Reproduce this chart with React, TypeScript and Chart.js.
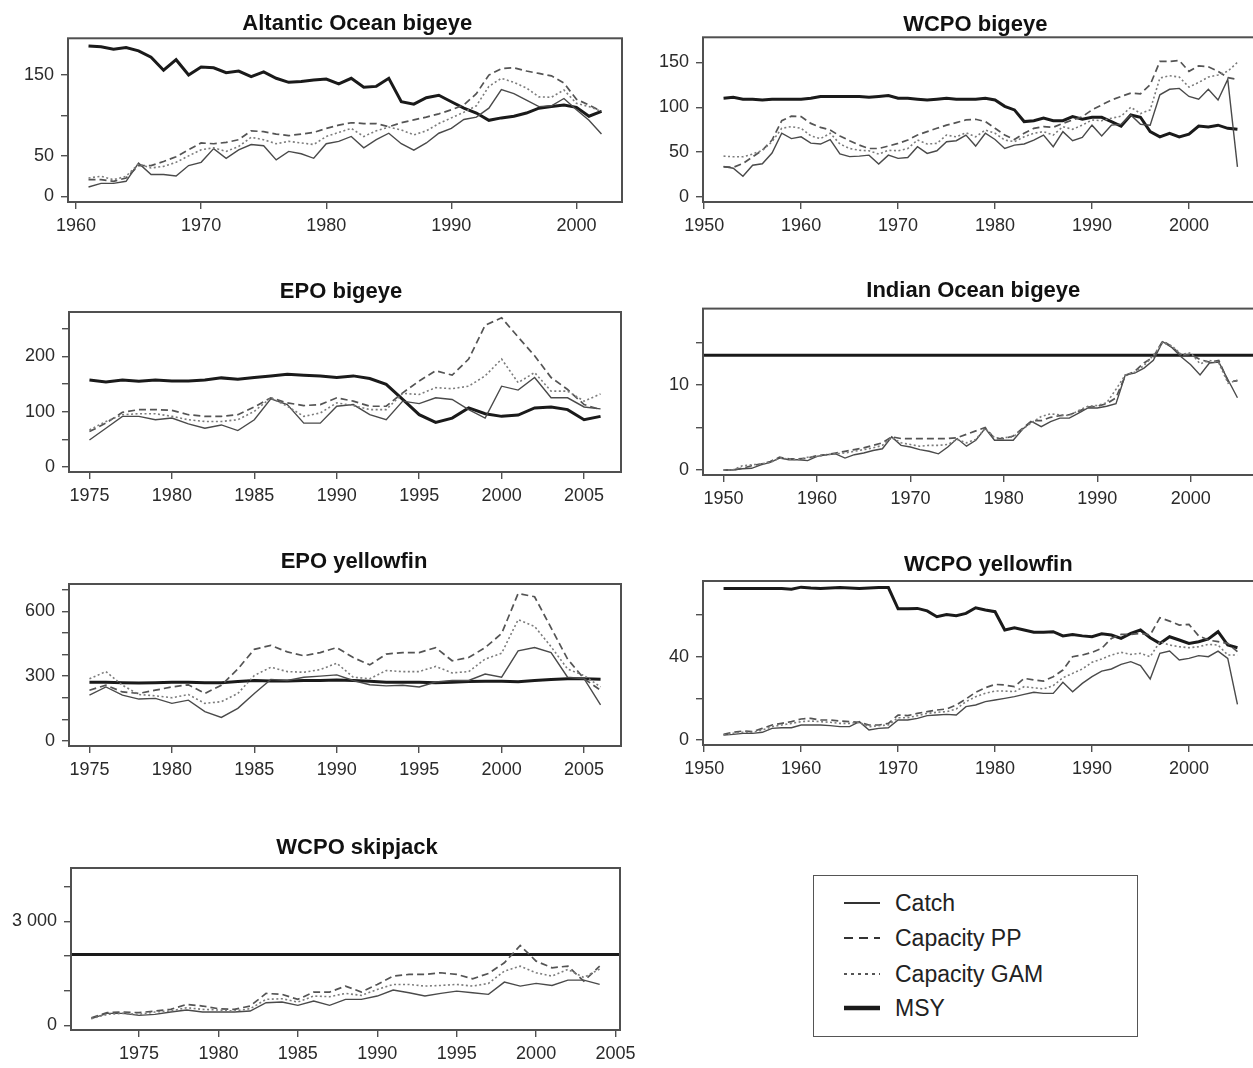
import React, { useEffect, useRef } from "react";
import { Chart, registerables } from "chart.js";

Chart.register(...registerables);

const FONT = "'Liberation Sans', Arial, Helvetica, sans-serif";

// ---------- Atlantic Ocean bigeye (1961-2002) ----------
const atlStart = 1961;
const atlCatch = [11.5, 16, 16, 18.5, 41, 27, 27, 25, 38, 42, 59, 47, 57.5, 64, 62.5, 45, 55.5, 52.6, 47, 65, 68, 74, 60, 70, 78, 65, 57, 66, 78, 84, 95, 98, 109, 132, 127, 119, 111, 112, 121, 107, 94, 77];
const atlPP = [20.5, 20.5, 18.5, 22.6, 38, 38, 43, 49, 57.5, 66, 65, 66.6, 70, 81, 80, 77, 75, 77, 79, 84, 88, 91, 90, 90, 86, 91, 94.5, 98, 102, 107, 113, 127, 150, 158, 159, 155, 152, 149, 140, 120, 113, 105];
const atlGAM = [22.6, 24.7, 20.5, 24.7, 40, 35, 37, 42, 50, 57.5, 60, 55.5, 61.6, 73, 70, 65, 68, 66, 64, 74, 79, 84, 74, 81, 85.5, 82, 76, 81, 90, 97, 104, 112, 136, 146, 141, 134, 123, 122.5, 131.5, 115, 111, 105];
const atlMSY = [186, 185, 182, 184, 180, 172, 156, 169, 150, 160, 159, 153, 155, 148, 154, 146, 141, 142, 144, 145, 139, 146, 135, 136, 146, 117, 114, 122, 125, 117, 109, 103, 94, 97, 99, 103, 109, 111, 113, 110, 99, 105];

// ---------- WCPO bigeye (1952-2005) ----------
const wbeStart = 1952;
const wbeCatch = [34, 32, 23, 35.4, 37, 49, 71, 65, 67, 60, 59, 64, 48, 45, 45.5, 46.6, 36.6, 46.6, 43, 44, 56, 48.5, 51.5, 61.6, 62.7, 69, 56.7, 71, 64, 54, 57.8, 59, 63.4, 69, 56, 72.8, 62.7, 66.4, 80, 68, 80, 81, 91.4, 81, 80, 113.8, 120, 121, 112, 109, 120, 108, 131, 33.6];
const wbePP = [33.6, 33, 37.3, 44.8, 52, 63.4, 85, 90, 89.5, 82, 77.6, 74.6, 68, 62.7, 57.8, 54, 54, 56.7, 59.7, 63.4, 69, 72.8, 76.5, 80, 82.8, 85.8, 86.6, 84, 76.5, 69, 64, 71, 76.5, 78.4, 77.6, 82, 85.8, 89.5, 97, 102.6, 108, 112, 115.7, 115, 125, 151, 151, 152, 140, 146, 145, 140, 133, 131];
const wbeGAM = [45.5, 44.8, 44.8, 47.8, 52, 61.6, 76.5, 78.4, 76.5, 68, 65, 71, 59, 54, 52, 51.5, 47.8, 52, 51.5, 54, 63.4, 59, 59.7, 69, 67, 71.6, 67, 74.6, 71, 63.4, 61.6, 67, 71, 72.8, 69, 78.4, 75.4, 80, 85.8, 85, 87.7, 90, 100, 93, 97, 132.5, 135, 133.6, 122.4, 127.6, 133.6, 136, 140, 150];
const wbeMSY = [110, 111, 109, 109, 108, 109, 109, 109, 109, 110, 112, 112, 112, 112, 112, 111, 112, 113, 110, 110, 109, 108, 109, 110, 109, 109, 109, 110, 108, 101, 97, 84, 85, 88, 85, 85, 89.5, 86.6, 88.8, 88.8, 84, 79, 91.4, 88.8, 72.8, 67, 71, 67, 70, 79, 78, 80, 76.5, 75.4];

// ---------- EPO bigeye (1975-2006) ----------
const ebeStart = 1975;
const ebeCatch = [48.8, 70, 91.5, 91.5, 85.4, 88.4, 78, 70, 76, 65.8, 85.4, 123, 112.8, 79.3, 79.3, 109.8, 112.8, 94.5, 85.4, 119, 114.6, 125, 122, 103.7, 88.4, 146, 139, 161.6, 125, 125, 108.5, 105];
const ebePP = [64, 79.3, 98.8, 103.7, 103.7, 102.4, 94.5, 91.5, 91.5, 94.5, 108.5, 125, 115.9, 111, 112.8, 125, 119, 109.8, 109.8, 134, 155.5, 173.8, 165.9, 195, 256, 269.5, 234.8, 201, 161.6, 140, 112.8, 103.7];
const ebeGAM = [67, 82.3, 94.5, 96.3, 96.3, 91.5, 85.4, 82.3, 82.3, 85.4, 100.6, 125, 109.8, 91.5, 97.6, 115.9, 111, 103.7, 103.7, 133, 131, 143.3, 141.5, 146, 164.6, 195, 152.4, 170.7, 137, 137, 119, 132];
const ebeMSY = [157, 153.7, 157, 155, 157, 155.5, 155.5, 157, 161, 158.5, 161.6, 164.6, 167.7, 165.9, 164.6, 161.6, 164.6, 159.8, 149.4, 122, 94.5, 80.5, 88.4, 106.7, 96.3, 91.5, 93.9, 106.7, 108.5, 103.7, 85.4, 91.5];

// ---------- Indian Ocean bigeye (1950-2005) ----------
const iobStart = 1950;
const iobCatch = [0, 0, 0.15, 0.2, 0.6, 0.9, 1.4, 1.2, 1.2, 1.1, 1.6, 1.8, 1.9, 1.4, 1.8, 2.0, 2.3, 2.5, 3.9, 2.9, 2.7, 2.4, 2.2, 1.9, 2.7, 3.7, 2.8, 3.5, 4.9, 3.5, 3.5, 3.5, 4.8, 5.7, 5.1, 5.7, 6.1, 6.1, 6.7, 7.3, 7.3, 7.5, 7.8, 11.2, 11.4, 12.0, 12.9, 15.1, 14.4, 13.3, 12.4, 11.2, 12.6, 12.7, 10.6, 8.5];
const iobPP = [0, 0, 0.2, 0.5, 0.7, 1.0, 1.5, 1.3, 1.3, 1.4, 1.7, 1.8, 2.0, 2.2, 2.4, 2.6, 2.9, 3.2, 3.9, 3.7, 3.7, 3.7, 3.7, 3.7, 3.7, 3.8, 4.2, 4.6, 5.0, 3.7, 3.7, 4.0, 4.9, 5.8, 5.8, 6.2, 6.4, 6.5, 6.9, 7.4, 7.5, 7.8, 8.5, 11.1, 11.6, 12.6, 13.3, 15.2, 14.5, 13.5, 13.6, 13.0, 12.7, 12.9, 10.4, 10.5];
const iobGAM = [0, 0, 0.5, 0.6, 0.7, 0.9, 1.4, 1.3, 1.2, 1.5, 1.6, 1.8, 1.9, 2.0, 2.2, 2.4, 2.6, 2.9, 3.8, 3.2, 3.0, 2.8, 2.9, 2.9, 3.0, 3.6, 3.2, 3.6, 4.9, 3.8, 3.8, 3.9, 4.8, 5.6, 6.3, 6.6, 6.5, 6.4, 7.0, 7.5, 7.6, 7.9, 9.5, 11.2, 11.5, 12.3, 13.5, 15.0, 14.6, 13.6, 13.8, 12.5, 12.9, 12.6, 10.2, 10.6];
const iobMSY = 13.5;

// ---------- EPO yellowfin (1975-2006) ----------
const eyfStart = 1975;
const eyfCatch = [212, 250, 212, 194, 197, 174, 189, 136, 109, 151, 220, 285, 280, 295, 300, 306, 280, 260, 255, 258, 250, 273, 280, 280, 310, 295, 417, 432, 409, 295, 288, 167];
const eyfPP = [235, 258, 227, 220, 235, 250, 260, 220, 258, 333, 424, 442, 412, 394, 409, 432, 386, 352, 402, 409, 409, 432, 371, 386, 432, 497, 682, 667, 523, 379, 288, 235];
const eyfGAM = [288, 321, 258, 215, 209, 200, 215, 174, 182, 220, 303, 341, 321, 318, 330, 360, 295, 288, 326, 321, 321, 345, 315, 321, 379, 406, 561, 530, 436, 333, 303, 250];
const eyfMSY = [272, 272, 270, 268, 270, 272, 272, 270, 270, 275, 280, 278, 278, 280, 280, 282, 280, 276, 272, 272, 272, 270, 272, 275, 276, 276, 274, 280, 285, 288, 288, 286];

// ---------- WCPO yellowfin (1952-2005) ----------
const wyfStart = 1952;
const wyfCatch = [2.4, 2.7, 3.2, 3.2, 3.7, 5.6, 5.9, 5.9, 7.2, 7.2, 7.2, 6.9, 6.4, 6.4, 8.8, 4.8, 5.6, 5.9, 9.6, 9.6, 10.4, 11.7, 12, 12.3, 12, 16, 16.8, 18.4, 19.2, 20, 20.8, 21.9, 22.9, 22.4, 22.4, 27.7, 23.2, 27.2, 30.4, 33.1, 34.1, 36.3, 37.6, 35.7, 29.3, 41.6, 42.7, 38.4, 39.2, 40.5, 40, 42.7, 39.2, 17.1];
const wyfPP = [2.7, 3.7, 4.3, 4, 5.6, 7.2, 8, 8.8, 10.1, 10.4, 9.6, 9.6, 9.1, 8.8, 8.5, 7.2, 7.2, 8, 12, 11.7, 12.8, 13.6, 14.4, 14.9, 16.8, 19.7, 22.9, 25.1, 26.7, 26.4, 25.6, 29.6, 28.8, 28.3, 30.4, 33.6, 40, 40.8, 42.1, 44, 48.8, 50.7, 50.7, 51.2, 50.4, 58.7, 57.1, 55.2, 55.5, 50, 48, 47.2, 46.4, 42.4];
const wyfGAM = [2.4, 3.2, 3.7, 3.7, 4.8, 6.4, 7.2, 8, 8.8, 9.1, 8.8, 8.5, 8, 8, 8.5, 6.4, 6.9, 7.2, 10.7, 10.7, 11.7, 12.8, 13.3, 13.6, 14.9, 18.4, 20.8, 22.4, 23.5, 23.5, 23.2, 25.6, 25.1, 24.5, 26.1, 29.9, 32, 34.1, 37.3, 38.9, 40.8, 42.1, 41.1, 41.6, 40, 47.2, 45.6, 44.8, 44.3, 44.8, 45.9, 45.6, 40.8, 40.8];
const wyfMSY = [72.8, 72.8, 72.8, 72.8, 72.8, 72.8, 72.8, 72.4, 73.4, 73.0, 72.8, 73.0, 73.2, 73.0, 72.8, 73.0, 73.2, 73.2, 63, 63, 63.2, 62, 59.2, 60.3, 59.7, 60.8, 63.5, 62.4, 61.6, 52.8, 53.9, 52.8, 51.7, 51.7, 52, 50, 50.7, 50, 49.6, 51, 50.4, 48.8, 51.2, 52.8, 49.1, 46.4, 49.6, 48, 46.4, 47.2, 48.5, 52, 45.6, 44.3];

// ---------- WCPO skipjack (1972-2004) ----------
const skjStart = 1972;
const skjCatch = [192, 345, 345, 288, 316, 384, 441, 384, 384, 384, 412, 652, 671, 575, 700, 575, 748, 748, 844, 1016, 940, 844, 920, 987, 940, 892, 1246, 1131, 1208, 1150, 1304, 1304, 1179];
const skjPP = [220, 364, 384, 364, 412, 460, 604, 556, 479, 460, 556, 920, 892, 748, 959, 959, 1131, 959, 1179, 1419, 1467, 1467, 1515, 1467, 1342, 1496, 1802, 2301, 1850, 1659, 1707, 1275, 1707];
const skjGAM = [192, 316, 345, 316, 384, 412, 508, 460, 441, 412, 479, 748, 767, 671, 844, 825, 920, 863, 1035, 1179, 1179, 1131, 1150, 1179, 1131, 1208, 1563, 1707, 1515, 1419, 1611, 1380, 1620];
const skjMSY = 2040;

// ---------- tick values / labels ----------
const atlXTicks = [1960, 1970, 1980, 1990, 2000];
const atlYTicks = [0, 50, 100, 150];
const atlYLabels = ["0", "50", "", "150"];
const wcpoXTicks = [1950, 1960, 1970, 1980, 1990, 2000];
const wbeYTicks = [0, 50, 100, 150];
const wbeYLabels = ["0", "50", "100", "150"];
const epoXTicks = [1975, 1980, 1985, 1990, 1995, 2000, 2005];
const ebeYTicks = [0, 50, 100, 150, 200, 250];
const ebeYLabels = ["0", "", "100", "", "200", ""];
const iobYTicks = [0, 5, 10, 15];
const iobYLabels = ["0", "", "10", ""];
const eyfYTicks = [0, 100, 200, 300, 400, 500, 600, 700];
const eyfYLabels = ["0", "", "", "300", "", "", "600", ""];
const wyfYTicks = [0, 20, 40, 60];
const wyfYLabels = ["0", "", "40", ""];
const skjXTicks = [1975, 1980, 1985, 1990, 1995, 2000, 2005];
const skjYTicks = [0, 1000, 2000, 3000, 4000];
const skjYLabels = ["0", "", "", "3 000", ""];

type Box = { l: number; t: number; r: number; b: number };
type Spec = {
  title: string;
  titleX: number;
  titleY: number;
  box: Box;
  start: number;
  catchV: number[];
  pp: number[];
  gam: number[];
  msy: number[] | number;
  xLim: [number, number];
  xTicks: number[];
  yLim: [number, number];
  yTicks: number[];
  yLabels: string[];
};

const panels: Spec[] = [
  {
    title: "Altantic Ocean bigeye", titleX: 357, titleY: 24,
    box: { l: 67.7, t: 38.3, r: 621.7, b: 201.7 },
    start: atlStart, catchV: atlCatch, pp: atlPP, gam: atlGAM, msy: atlMSY,
    xLim: [1959.36, 2003.64], xTicks: atlXTicks,
    yLim: [-7.1, 195.5], yTicks: atlYTicks, yLabels: atlYLabels,
  },
  {
    title: "WCPO bigeye", titleX: 975, titleY: 25,
    box: { l: 702.7, t: 37.3, r: 1257.2, b: 201.7 },
    start: wbeStart, catchV: wbeCatch, pp: wbePP, gam: wbeGAM, msy: wbeMSY,
    xLim: [1949.88, 2007.12], xTicks: wcpoXTicks,
    yLim: [-5.6, 177.9], yTicks: wbeYTicks, yLabels: wbeYLabels,
  },
  {
    title: "EPO bigeye", titleX: 341, titleY: 291.7,
    box: { l: 69, t: 311.7, r: 621, b: 471.7 },
    start: ebeStart, catchV: ebeCatch, pp: ebePP, gam: ebeGAM, msy: ebeMSY,
    xLim: [1973.76, 2007.24], xTicks: epoXTicks,
    yLim: [-9, 280], yTicks: ebeYTicks, yLabels: ebeYLabels,
  },
  {
    title: "Indian Ocean bigeye", titleX: 973, titleY: 290.7,
    box: { l: 702.7, t: 308.3, r: 1257.2, b: 475 },
    start: iobStart, catchV: iobCatch, pp: iobPP, gam: iobGAM, msy: iobMSY,
    xLim: [1947.8, 2007.2], xTicks: wcpoXTicks,
    yLim: [-0.59, 19.0], yTicks: iobYTicks, yLabels: iobYLabels,
  },
  {
    title: "EPO yellowfin", titleX: 354, titleY: 562.3,
    box: { l: 69, t: 584.3, r: 621, b: 746.7 },
    start: eyfStart, catchV: eyfCatch, pp: eyfPP, gam: eyfGAM, msy: eyfMSY,
    xLim: [1973.76, 2007.24], xTicks: epoXTicks,
    yLim: [-23, 726], yTicks: eyfYTicks, yLabels: eyfYLabels,
  },
  {
    title: "WCPO yellowfin", titleX: 988, titleY: 565,
    box: { l: 702.7, t: 581, r: 1257.2, b: 745 },
    start: wyfStart, catchV: wyfCatch, pp: wyfPP, gam: wyfGAM, msy: wyfMSY,
    xLim: [1949.88, 2007.12], xTicks: wcpoXTicks,
    yLim: [-2.4, 76.35], yTicks: wyfYTicks, yLabels: wyfYLabels,
  },
  {
    title: "WCPO skipjack", titleX: 357, titleY: 848.3,
    box: { l: 71, t: 868.3, r: 619.5, b: 1030.7 },
    start: skjStart, catchV: skjCatch, pp: skjPP, gam: skjGAM, msy: skjMSY,
    xLim: [1970.72, 2005.28], xTicks: skjXTicks,
    yLim: [-135, 4536], yTicks: skjYTicks, yLabels: skjYLabels,
  },
];

const YW = 64; // y-axis band width
const XH = 42; // x-axis band height
const RP = 30; // right padding
const TITLE_OFF = 15;

function Panel({ spec }: { spec: Spec }) {
  const ref = useRef<HTMLCanvasElement | null>(null);
  const left = spec.box.l - YW;
  const top = spec.titleY - TITLE_OFF;
  const width = Math.round(spec.box.r - spec.box.l + YW + RP);
  const height = Math.round(spec.box.b - top + XH);

  useEffect(() => {
    if (!ref.current) return;
    const years = spec.catchV.map((_, i) => spec.start + i);
    const pts = (arr: number[]) => arr.map((v, i) => ({ x: years[i], y: v }));
    const msyData =
      typeof spec.msy === "number"
        ? [
            { x: spec.xLim[0], y: spec.msy },
            { x: spec.xLim[1], y: spec.msy },
          ]
        : pts(spec.msy);

    const framePlugin = {
      id: "frameAndTitle",
      afterDraw(chart: any) {
        const { ctx, chartArea } = chart;
        ctx.save();
        ctx.strokeStyle = "#505050";
        ctx.lineWidth = 2;
        ctx.strokeRect(chartArea.left, chartArea.top, chartArea.right - chartArea.left, chartArea.bottom - chartArea.top);
        ctx.fillStyle = "#111";
        ctx.font = `bold 22px ${FONT}`;
        ctx.textAlign = "center";
        ctx.textBaseline = "middle";
        ctx.fillText(spec.title, spec.titleX - left, TITLE_OFF);
        ctx.restore();
      },
    };

    const common = { pointRadius: 0, pointHoverRadius: 0, tension: 0, fill: false };
    const chart = new Chart(ref.current, {
      type: "line",
      data: {
        datasets: [
          { label: "Capacity GAM", data: pts(spec.gam), borderColor: "#7c7c7c", borderWidth: 1.6, borderDash: [2, 2.5], ...common },
          { label: "Capacity PP", data: pts(spec.pp), borderColor: "#545454", borderWidth: 1.7, borderDash: [7, 4], ...common },
          { label: "Catch", data: pts(spec.catchV), borderColor: "#4a4a4a", borderWidth: 1.4, ...common },
          { label: "MSY", data: msyData, borderColor: "#1a1a1a", borderWidth: 3, ...common },
        ],
      },
      options: {
        responsive: false,
        animation: false,
        devicePixelRatio: 1,
        events: [],
        layout: { padding: { left: 0, right: RP, top: spec.box.t - top, bottom: 0 } },
        plugins: {
          legend: { display: false },
          tooltip: { enabled: false },
          title: { display: false },
        },
        scales: {
          x: {
            type: "linear",
            min: spec.xLim[0],
            max: spec.xLim[1],
            afterBuildTicks: (s: any) => {
              s.ticks = spec.xTicks.map((v) => ({ value: v }));
            },
            afterFit: (s: any) => {
              s.height = XH;
            },
            border: { display: false },
            grid: { display: true, drawOnChartArea: false, drawTicks: true, tickLength: 7, color: "#505050", lineWidth: 1.4 },
            ticks: {
              autoSkip: false,
              maxRotation: 0,
              padding: 6,
              color: "#2a2a2a",
              font: { family: FONT, size: 18 },
              callback: (v: any) => String(v),
            },
          },
          y: {
            type: "linear",
            min: spec.yLim[0],
            max: spec.yLim[1],
            afterBuildTicks: (s: any) => {
              s.ticks = spec.yTicks.map((v) => ({ value: v }));
            },
            afterFit: (s: any) => {
              s.width = YW;
            },
            border: { display: false },
            grid: { display: true, drawOnChartArea: false, drawTicks: true, tickLength: 7, color: "#505050", lineWidth: 1.4 },
            ticks: {
              autoSkip: false,
              padding: 7,
              color: "#2a2a2a",
              font: { family: FONT, size: 18 },
              callback: (_v: any, i: number) => spec.yLabels[i] ?? "",
            },
          },
        },
      },
      plugins: [framePlugin],
    } as any);
    return () => chart.destroy();
  }, []);

  return (
    <canvas
      ref={ref}
      width={width}
      height={height}
      style={{ position: "absolute", left, top, width, height }}
    />
  );
}

const legendItems = [
  { label: "Catch", width: 2, dash: "", color: "#333" },
  { label: "Capacity PP", width: 2, dash: "9 6", color: "#333" },
  { label: "Capacity GAM", width: 2, dash: "3 4", color: "#555" },
  { label: "MSY", width: 4.5, dash: "", color: "#1a1a1a" },
];
const legendRowY = [26.7, 61.7, 98.3, 131.7];

function Legend() {
  return (
    <div
      style={{
        position: "absolute",
        left: 813,
        top: 875,
        width: 325,
        height: 162,
        border: "1.5px solid #555",
        boxSizing: "border-box",
        fontFamily: FONT,
        fontSize: 23,
        color: "#222",
      }}
    >
      {legendItems.map((it, i) => (
        <div key={it.label} style={{ position: "absolute", left: 0, top: legendRowY[i] - 15, height: 30, width: 320 }}>
          <svg width={40} height={30} style={{ position: "absolute", left: 29, top: 0 }}>
            <line x1={1} y1={15} x2={37} y2={15} stroke={it.color} strokeWidth={it.width} strokeDasharray={it.dash || undefined} />
          </svg>
          <span style={{ position: "absolute", left: 81, top: 0, lineHeight: "30px", whiteSpace: "nowrap" }}>{it.label}</span>
        </div>
      ))}
    </div>
  );
}

export default function App() {
  return (
    <div
      style={{
        position: "absolute",
        left: 0,
        top: 0,
        width: 1253,
        height: 1068,
        overflow: "hidden",
        background: "#ffffff",
      }}
    >
      {panels.map((p) => (
        <Panel key={p.title} spec={p} />
      ))}
      <Legend />
    </div>
  );
}
